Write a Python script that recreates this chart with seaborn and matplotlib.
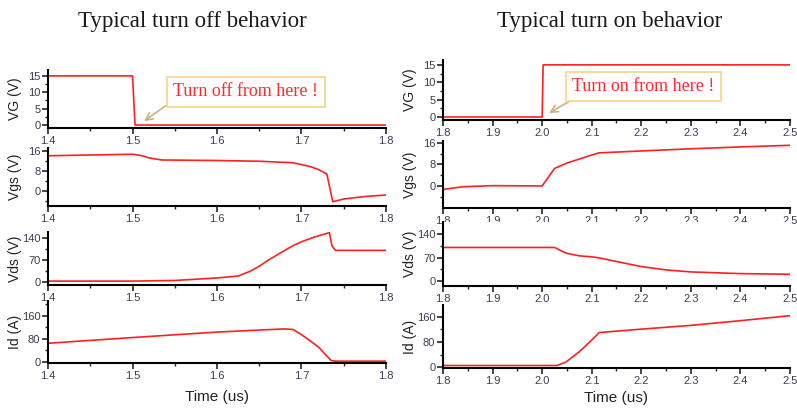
import matplotlib
matplotlib.use("Agg")
import matplotlib.pyplot as plt
import matplotlib.ticker as mticker
import seaborn as sns
import pandas as pd

# ---------------- turn-off waveforms (time in us) ----------------
off_vg_t = [1.4, 1.5, 1.503, 1.8]
off_vg = [15, 15, 0, 0]

off_vgs_t = [1.4, 1.45, 1.5, 1.51, 1.52, 1.535, 1.6, 1.65, 1.69, 1.71, 1.72,
             1.73, 1.733, 1.737, 1.75, 1.775, 1.8]
off_vgs = [14.1, 14.4, 14.7, 14.2, 13.2, 12.4, 12.2, 11.9, 11.3, 9.8, 8.6,
           6.8, 2.0, -4.3, -3.2, -2.2, -1.6]

off_vds_t = [1.4, 1.5, 1.55, 1.6, 1.625, 1.64, 1.65, 1.66, 1.675, 1.69, 1.7,
             1.715, 1.733, 1.736, 1.74, 1.8]
off_vds = [3, 3, 5, 13, 19, 35, 50, 68, 92, 115, 127, 142, 156, 115, 100, 100]

off_id_t = [1.4, 1.5, 1.6, 1.65, 1.68, 1.69, 1.7, 1.71, 1.72, 1.735, 1.74, 1.8]
off_id = [65, 85, 104, 111, 115, 113, 95, 74, 52, 5, 3, 3]

# ---------------- turn-on waveforms (time in us) ----------------
on_vg_t = [1.8, 2.0, 2.002, 2.5]
on_vg = [0, 0, 15, 15]

on_vgs_t = [1.8, 1.84, 1.9, 2.0, 2.025, 2.05, 2.1, 2.115, 2.2, 2.3, 2.4, 2.5]
on_vgs = [-1.3, -0.3, 0.1, 0.0, 6.5, 8.5, 11.5, 12.3, 13.0, 13.8, 14.5, 15.1]

on_vds_t = [1.8, 2.025, 2.048, 2.075, 2.1, 2.115, 2.15, 2.2, 2.25, 2.3, 2.4, 2.5]
on_vds = [100, 100, 83, 75, 72, 69, 58, 43, 33, 27, 22, 20]

on_id_t = [1.8, 2.03, 2.048, 2.075, 2.1, 2.115, 2.2, 2.3, 2.4, 2.5]
on_id = [5, 5, 16, 49, 86, 110, 121, 133, 148, 164]

panel_labels = ["VG (V)", "Vgs (V)", "Vds (V)", "Id (A)"]
titles = ["Typical turn off behavior", "Typical turn on behavior"]

sns.set_style("ticks")
plt.rcParams["font.family"] = ["Liberation Sans", "DejaVu Sans"]

W, H = 797, 411
fig = plt.figure(figsize=(W / 100, H / 100), dpi=100)
fig.patch.set_facecolor("white")


def px_axes(x0, x1, top, bottom):
    return fig.add_axes([x0 / W, 1 - bottom / H, (x1 - x0) / W, (bottom - top) / H])


TICK_COL = "#3a3d55"


def style(ax, xlim, xmajor, ylim, ymajor, yminor, label, label_x):
    ax.set_xlim(*xlim)
    ax.set_ylim(*ylim)
    for s in ("top", "right"):
        ax.spines[s].set_visible(False)
    for s in ("left", "bottom"):
        ax.spines[s].set_linewidth(1.5)
        ax.spines[s].set_color("black")
    ax.xaxis.set_major_locator(mticker.FixedLocator(xmajor))
    ax.xaxis.set_minor_locator(mticker.MultipleLocator(0.05))
    ax.xaxis.set_major_formatter(mticker.FormatStrFormatter("%.1f"))
    ax.yaxis.set_major_locator(mticker.FixedLocator(ymajor))
    ax.yaxis.set_minor_locator(mticker.FixedLocator(yminor))
    ax.tick_params(axis="both", which="major", direction="out", length=4,
                   width=1.2, labelsize=8, labelcolor=TICK_COL, pad=1.5)
    ax.tick_params(axis="both", which="minor", direction="out", length=2.5,
                   width=1.0)
    ax.set_ylabel(label, fontsize=10, color="#222222", va="center")
    ax.yaxis.set_label_coords(label_x, 0.5)
    ax.set_xlabel("")
    ax.grid(False)


def trace(ax, t, v):
    df = pd.DataFrame({"t": t, "v": v})
    sns.lineplot(data=df, x="t", y="v", ax=ax, color="#ff2020", linewidth=1.2,
                 estimator=None, sort=False)


# ---------------- left column ----------------
LX0, LX1 = 48, 386
lx = (1.4, 1.8)
lxt = [1.4, 1.5, 1.6, 1.7, 1.8]
llx = (15 - LX0) / (LX1 - LX0)

a = px_axes(LX0, LX1, 70, 128)
trace(a, off_vg_t, off_vg)
style(a, lx, lxt, (-0.9, 16.8), [0, 5, 10, 15], [2.5, 7.5, 12.5], panel_labels[0], llx)
a.annotate("Turn off from here !", xy=(1.5136, 1.2), xytext=(1.634, 10.1),
           ha="center", va="center", fontsize=13, color="#ff2a2a",
           family=["Liberation Serif", "DejaVu Serif"],
           bbox=dict(boxstyle="square,pad=0.35", fc="white", ec="#f7d98c", lw=1.3),
           arrowprops=dict(arrowstyle="->", color="#c9b47c", lw=1.2,
                           relpos=(0.0, 0.0), shrinkA=0, shrinkB=0))

a = px_axes(LX0, LX1, 148, 206)
trace(a, off_vgs_t, off_vgs)
style(a, lx, lxt, (-6, 17.2), [0, 8, 16], [-4, 4, 12], panel_labels[1], llx)

a = px_axes(LX0, LX1, 232, 285)
trace(a, off_vds_t, off_vds)
style(a, lx, lxt, (-9.3, 158), [0, 70, 140], [35, 105], panel_labels[2], llx)

a = px_axes(LX0, LX1, 301, 363)
trace(a, off_id_t, off_id)
style(a, lx, lxt, (-3.5, 212), [0, 80, 160], [40, 120, 200], panel_labels[3], llx)
a.set_xlabel("Time (us)", fontsize=11, color="#222222", labelpad=7)

# ---------------- right column ----------------
RX0, RX1 = 443, 790
rx = (1.8, 2.5)
rxt = [1.8, 1.9, 2.0, 2.1, 2.2, 2.3, 2.4, 2.5]
rlx = (410 - RX0) / (RX1 - RX0)

a = px_axes(RX0, RX1, 60, 120)
trace(a, on_vg_t, on_vg)
style(a, rx, rxt, (-0.87, 16.4), [0, 5, 10, 15], [2.5, 7.5, 12.5], panel_labels[0], rlx)
a.annotate("Turn on from here !", xy=(2.0138, 1.15), xytext=(2.2045, 8.8),
           ha="center", va="center", fontsize=13, color="#ff2a2a",
           family=["Liberation Serif", "DejaVu Serif"],
           bbox=dict(boxstyle="square,pad=0.35", fc="white", ec="#f7d98c", lw=1.3),
           arrowprops=dict(arrowstyle="->", color="#c9b47c", lw=1.2,
                           relpos=(0.06, 0.0), shrinkA=0, shrinkB=0))

a = px_axes(RX0, RX1, 141, 208)
trace(a, on_vgs_t, on_vgs)
style(a, rx, rxt, (-8.2, 16.7), [0, 8, 16], [-4, 4, 12], panel_labels[1], rlx)

a = px_axes(RX0, RX1, 222, 286)
trace(a, on_vds_t, on_vds)
style(a, rx, rxt, (-15, 176), [0, 70, 140], [35, 105], panel_labels[2], rlx)

a = px_axes(RX0, RX1, 305, 368)
trace(a, on_id_t, on_id)
style(a, rx, rxt, (-3, 198), [0, 80, 160], [40, 120], panel_labels[3], rlx)
a.set_xlabel("Time (us)", fontsize=11, color="#222222", labelpad=4)

# ---------------- column titles ----------------
for cx, txt in zip((192, 610), titles):
    fig.text(cx / W, 1 - 22 / H, txt, ha="center", va="center", fontsize=16.5,
             color="#1a1a1a", family=["Liberation Serif", "DejaVu Serif"])

fig.savefig("out.png", dpi=100, facecolor="white")
